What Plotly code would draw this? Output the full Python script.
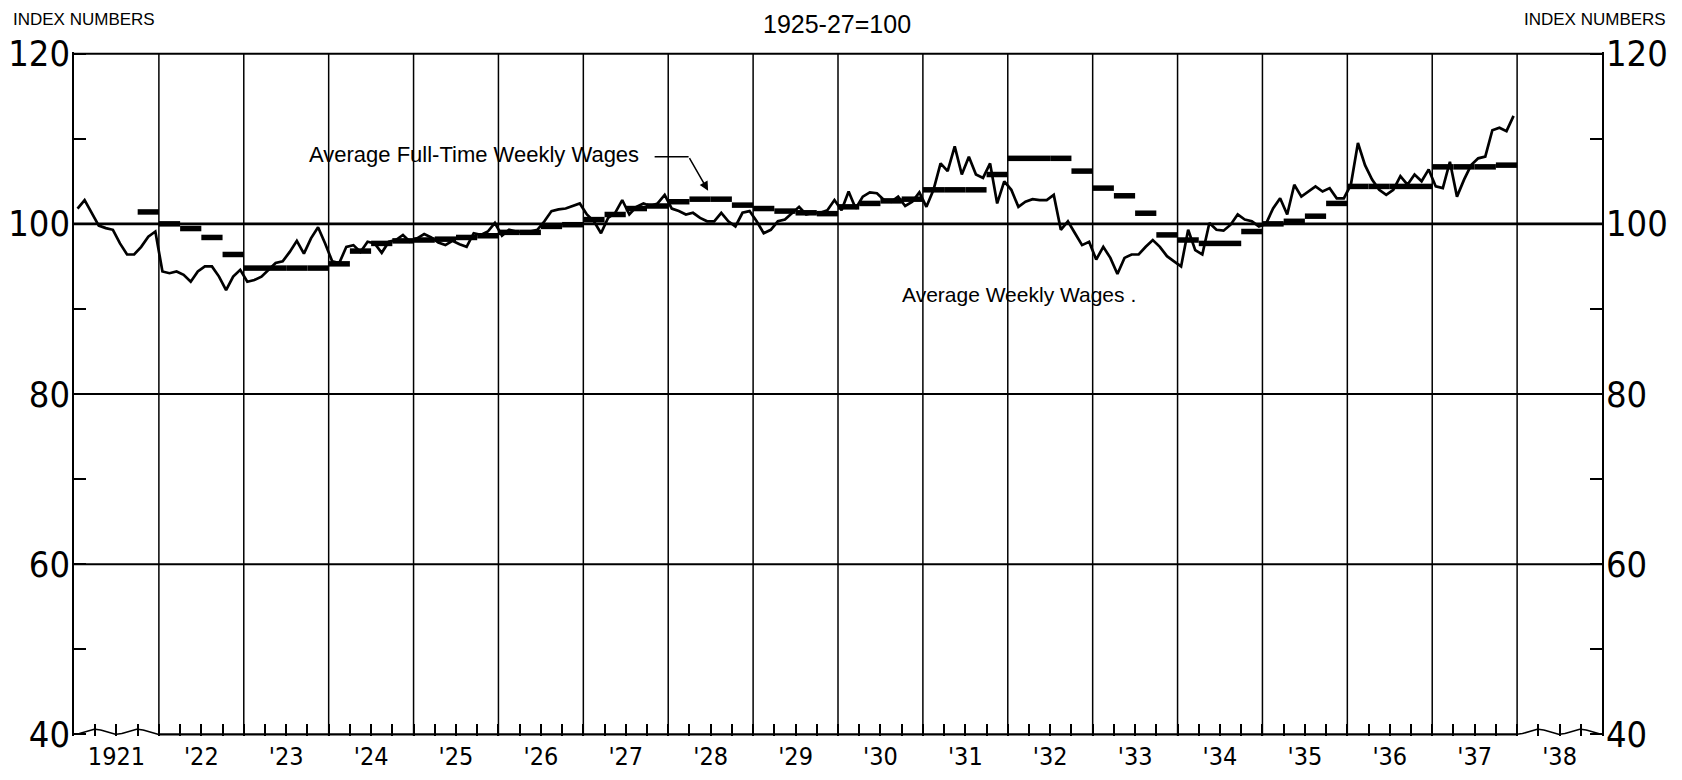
import plotly.graph_objects as go
import math

# ---------------- DATA ----------------
# Average Weekly Wages, monthly index (1925-27 = 100), Jan 1921 .. Dec 1937
wages_1921 = [101.8, 102.8, 101.3, 99.8, 99.5, 99.3, 97.7, 96.4, 96.4, 97.3, 98.5, 99.1]
wages_1922 = [94.4, 94.2, 94.4, 94.0, 93.2, 94.4, 95.0, 95.0, 93.8, 92.2, 93.8, 94.6]
wages_1923 = [93.2, 93.4, 93.8, 94.6, 95.4, 95.6, 96.7, 98.0, 96.5, 98.3, 99.6, 97.7]
wages_1924 = [95.6, 95.4, 97.3, 97.5, 96.7, 97.9, 97.7, 96.6, 97.9, 98.1, 98.7, 97.9]
wages_1925 = [98.3, 98.8, 98.4, 97.8, 97.5, 98.0, 97.6, 97.3, 98.9, 98.7, 99.1, 100.1]
wages_1926 = [98.6, 99.3, 99.1, 99.0, 99.1, 99.3, 100.3, 101.5, 101.7, 101.8, 102.1, 102.4]
wages_1927 = [101.1, 100.3, 98.9, 100.7, 101.3, 102.8, 101.1, 102.0, 102.4, 102.1, 102.4, 103.4]
wages_1928 = [101.8, 101.5, 101.1, 101.3, 100.7, 100.3, 100.3, 101.3, 100.3, 99.7, 101.3, 101.5]
wages_1929 = [100.3, 98.9, 99.3, 100.3, 100.5, 101.3, 102.0, 101.1, 101.3, 101.3, 101.6, 102.8]
wages_1930 = [101.6, 103.8, 101.8, 103.2, 103.7, 103.6, 102.8, 102.6, 103.2, 102.1, 102.6, 103.7]
wages_1931 = [102.0, 104.0, 107.1, 106.2, 109.1, 105.8, 107.9, 105.8, 105.4, 107.1, 102.4, 105.0]
wages_1932 = [104.0, 102.0, 102.6, 102.9, 102.8, 102.8, 103.4, 99.3, 100.3, 98.9, 97.5, 97.9]
wages_1933 = [95.8, 97.3, 96.0, 94.1, 96.0, 96.4, 96.4, 97.3, 98.1, 97.3, 96.2, 95.6]
wages_1934 = [95.0, 99.3, 96.9, 96.4, 100.1, 99.3, 99.2, 99.9, 101.1, 100.5, 100.3, 99.7]
wages_1935 = [100.0, 101.8, 103.0, 101.1, 104.6, 103.2, 103.8, 104.4, 103.8, 104.2, 103.0, 103.0]
wages_1936 = [104.6, 109.5, 106.9, 105.2, 104.0, 103.4, 104.0, 105.6, 104.6, 105.8, 105.0, 106.4]
wages_1937 = [104.4, 104.2, 107.3, 103.2, 105.2, 106.9, 107.7, 107.9, 111.0, 111.3, 110.9, 112.7]

# Average Full-Time Weekly Wages, quarterly index (Q1..Q4 of each year)
fulltime_1921 = [None, None, None, 101.4]
fulltime_1922 = [100.0, 99.45, 98.4, 96.4]
fulltime_1923 = [94.8, 94.8, 94.8, 94.8]
fulltime_1924 = [95.3, 96.8, 97.7, 98.0]
fulltime_1925 = [98.1, 98.2, 98.4, 98.6]
fulltime_1926 = [99.0, 99.0, 99.7, 99.9]
fulltime_1927 = [100.5, 101.1, 101.8, 102.1]
fulltime_1928 = [102.6, 102.9, 102.9, 102.2]
fulltime_1929 = [101.8, 101.5, 101.3, 101.2]
fulltime_1930 = [102.0, 102.4, 102.7, 102.9]
fulltime_1931 = [104.0, 104.0, 104.0, 105.8]
fulltime_1932 = [107.7, 107.7, 107.7, 106.2]
fulltime_1933 = [104.2, 103.3, 101.25, 98.7]
fulltime_1934 = [98.1, 97.7, 97.7, 99.1]
fulltime_1935 = [100.0, 100.3, 100.9, 102.4]
fulltime_1936 = [104.4, 104.4, 104.4, 104.4]
fulltime_1937 = [106.7, 106.7, 106.7, 106.9]

year_labels = ["1921", "'22", "'23", "'24", "'25", "'26", "'27", "'28", "'29",
               "'30", "'31", "'32", "'33", "'34", "'35", "'36", "'37", "'38"]
y_ticks = [40, 60, 80, 100, 120]
y_minor = [50, 70, 90, 110]

first_year = 1921
last_year = 1939  # axis end (end of 1938)

# ---------------- BUILD ----------------
weekly = (wages_1921 + wages_1922 + wages_1923 + wages_1924 + wages_1925 + wages_1926 +
          wages_1927 + wages_1928 + wages_1929 + wages_1930 + wages_1931 + wages_1932 +
          wages_1933 + wages_1934 + wages_1935 + wages_1936 + wages_1937)
weekly_x = [first_year + (k + 0.5) / 12 for k in range(len(weekly))]

fulltime = (fulltime_1921 + fulltime_1922 + fulltime_1923 + fulltime_1924 + fulltime_1925 +
            fulltime_1926 + fulltime_1927 + fulltime_1928 + fulltime_1929 + fulltime_1930 +
            fulltime_1931 + fulltime_1932 + fulltime_1933 + fulltime_1934 + fulltime_1935 +
            fulltime_1936 + fulltime_1937)
ft_x, ft_y = [], []
for i, v in enumerate(fulltime):
    if v is None:
        continue
    x0 = first_year + i / 4
    ft_x += [x0, x0 + 0.25, None]
    ft_y += [v, v, None]

# page geometry (body has 8px default margin)
W, H = 1666, 764
L, R, T, B = 66, 72, 44, 36
PW, PH = W - L - R, H - T - B


def px(xp):
    return (xp - 8 - L) / PW


def py(yp):
    return ((H - B) - (yp - 8)) / PH


NARROW = "Liberation Sans Narrow, DejaVu Sans Condensed, Arial Narrow, sans-serif"
SANS = "Liberation Sans, Arial, sans-serif"

fig = go.Figure()

# axis-break waves at the bottom of 1921 and 1938 sections
for start in (first_year, last_year - 1):
    wx = [start + j / 80 for j in range(81)]
    wy = [40 + 0.6 * math.sin(2 * math.pi * (x - start)) ** 2 for x in wx]
    fig.add_trace(go.Scatter(x=wx, y=wy, mode="lines", line=dict(color="black", width=1.6),
                             hoverinfo="skip", showlegend=False))

fig.add_trace(go.Scatter(x=ft_x, y=ft_y, mode="lines", name="Average Full-Time Weekly Wages",
                         line=dict(color="black", width=5.5), showlegend=False))
fig.add_trace(go.Scatter(x=weekly_x, y=weekly, mode="lines", name="Average Weekly Wages",
                         line=dict(color="black", width=2.7), showlegend=False))
# dummy trace on right axis to activate it
fig.add_trace(go.Scatter(x=[None], y=[None], yaxis="y2", showlegend=False, hoverinfo="skip"))

shapes = []
for yr in range(first_year + 1, last_year):
    shapes.append(dict(type="line", xref="x", yref="y", x0=yr, x1=yr, y0=39.8, y1=120,
                       line=dict(color="black", width=1.5), layer="below"))
for gy, gw in ((60, 2), (80, 2), (100, 2.6)):
    shapes.append(dict(type="line", xref="x", yref="y", x0=first_year, x1=last_year, y0=gy, y1=gy,
                       line=dict(color="black", width=gw), layer="below"))
shapes.append(dict(type="line", xref="x", yref="y", x0=first_year, x1=last_year, y0=120, y1=120,
                   line=dict(color="black", width=2)))
shapes.append(dict(type="line", xref="x", yref="y", x0=first_year + 1, x1=last_year - 1, y0=40, y1=40,
                   line=dict(color="black", width=2.2)))
# leader line of the full-time label
shapes.append(dict(type="line", xref="x", yref="y", x0=1927.84, x1=1928.24, y0=107.9, y1=107.9,
                   line=dict(color="black", width=1.5)))

annotations = [
    dict(text="INDEX NUMBERS", xref="paper", yref="paper", x=px(11), y=py(8.5),
         xanchor="left", yanchor="top", showarrow=False, font=dict(family=SANS, size=17, color="black")),
    dict(text="INDEX NUMBERS", xref="paper", yref="paper", x=px(1668), y=py(8.5),
         xanchor="right", yanchor="top", showarrow=False, font=dict(family=SANS, size=17, color="black")),
    dict(text="1925-27=100", xref="paper", yref="paper", x=px(837), y=py(8.5),
         xanchor="center", yanchor="top", showarrow=False, font=dict(family=SANS, size=25, color="black")),
    dict(text="Average Full-Time Weekly Wages", xref="x", yref="y", x=1923.744, y=108.1,
         xanchor="left", yanchor="middle", showarrow=False, font=dict(family=SANS, size=22, color="black")),
    dict(text="Average Weekly Wages .", xref="x", yref="y", x=1930.73, y=91.65,
         xanchor="left", yanchor="middle", showarrow=False, font=dict(family=SANS, size=21, color="black")),
    dict(text="", xref="x", yref="y", axref="x", ayref="y", x=1928.47, y=103.9, ax=1928.24, ay=107.9,
         showarrow=True, arrowhead=2, arrowsize=1.2, arrowwidth=1.5, arrowcolor="black"),
]

yaxis_common = dict(
    range=[39.8, 120.2], tickvals=y_ticks, ticktext=[str(v) for v in y_ticks],
    tickfont=dict(family=NARROW, size=36, color="black"),
    showgrid=False, zeroline=False, showline=True, linecolor="black", linewidth=1.5,
    ticks="inside", ticklen=12, tickwidth=1.5, tickcolor="black", ticklabelstandoff=-5,
    minor=dict(tickvals=y_minor, ticks="inside", ticklen=12, tickwidth=1.5, tickcolor="black"),
    fixedrange=True, automargin=False,
)

fig.update_layout(
    template="none",
    width=W, height=H, autosize=False,
    margin=dict(l=L, r=R, t=T, b=B, pad=0, autoexpand=False),
    paper_bgcolor="white", plot_bgcolor="white",
    showlegend=False,
    xaxis=dict(range=[first_year, last_year],
               tickvals=[first_year + i + 0.5 for i in range(len(year_labels))],
               ticktext=year_labels,
               tickfont=dict(family=NARROW, size=25, color="black"),
               showgrid=False, zeroline=False, showline=False,
               ticks="inside", ticklen=12, tickwidth=1.5, tickcolor="black", ticklabelstandoff=3,
               minor=dict(tick0=first_year, dtick=0.25, ticks="inside", ticklen=12,
                          tickwidth=1.5, tickcolor="black"),
               fixedrange=True, automargin=False),
    yaxis=dict(side="left", **yaxis_common),
    yaxis2=dict(side="right", overlaying="y", anchor="x", **yaxis_common),
    shapes=shapes,
    annotations=annotations,
)

fig.write_html("out.html")
